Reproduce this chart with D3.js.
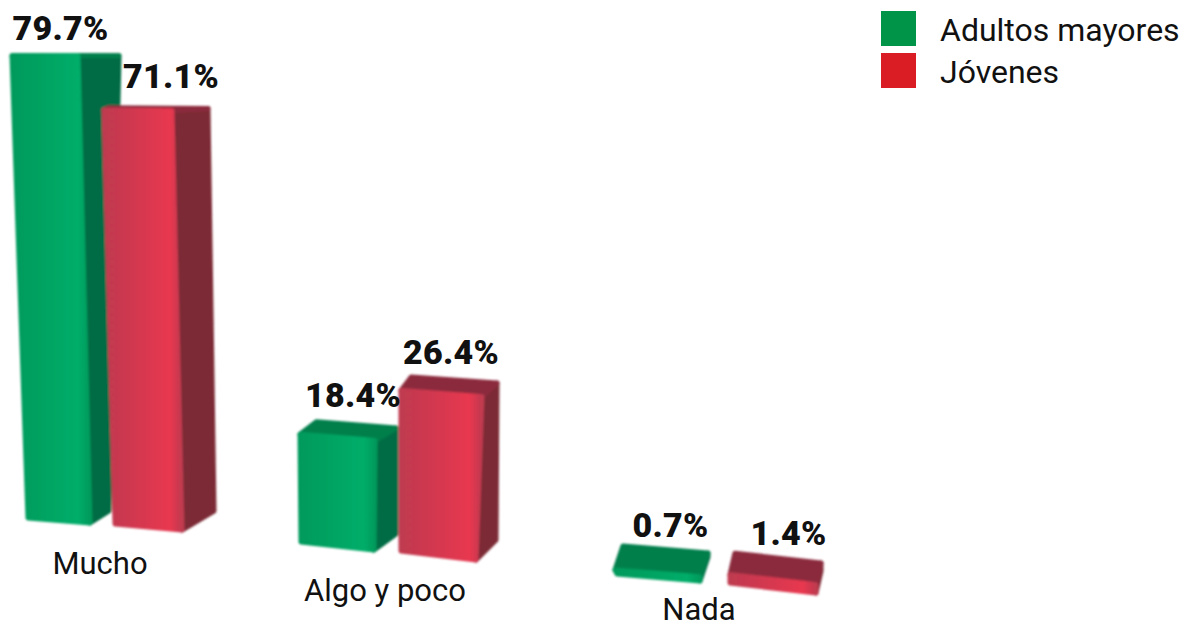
<!DOCTYPE html>
<html>
<head>
<meta charset="utf-8">
<script src="https://cdn.jsdelivr.net/npm/d3@7"></script>
<style>
    body { margin: 0; background: #fff; }
    svg { display: block; }
    text { font-family: Roboto, sans-serif; fill: #111; }
    .value { font-weight: 900; font-size: 34px; letter-spacing: 0.3px; text-anchor: middle; }
    .legend { font-size: 32px; }
    .cat { font-size: 31px; text-anchor: middle; }
</style>
</head>
<body>
<svg id="chart" width="1183" height="628"></svg>
<script>
var categories = ["Mucho", "Algo y poco", "Nada"];
var seriesNames = ["Adultos mayores", "Jóvenes"];
var adultos = [79.7, 18.4, 0.7];
var jovenes = [71.1, 26.4, 1.4];
var valueLabels = ["79.7%", "71.1%", "18.4%", "26.4%", "0.7%", "1.4%"];

var svg = d3.select("#chart");

var y = d3.scaleLinear().domain([0, 80]).range([0, 468]);

// the camera of the original 3d chart: everything flattens towards this line
var horizon = 50;

var bars = [];
categories.forEach(function(c, i) {
    bars.push({ cat: c, series: 0, value: adultos[i] });
    bars.push({ cat: c, series: 1, value: jovenes[i] });
});
bars.forEach(function(d, i) { d.key = i; d.label = valueLabels[i]; });
var keys = bars.map(function(d) { return d.key; });

// footprint of each block on the floor
var floorX = d3.scaleOrdinal().domain(keys).range([28, 115, 301, 401, 617, 730]);
var floorY = d3.scaleOrdinal().domain(keys).range([518, 524, 542, 551, 574, 583]);
var frontW = d3.scaleOrdinal().domain(keys).range([62, 67, 73, 75, 83, 86]);
var frontDrop = d3.scaleOrdinal().domain(keys).range([5, 6, 8, 9, 7, 10]);
var sideW = d3.scaleOrdinal().domain(keys).range([19, 32, 22, 20, 8, 5]);
var sideRise = d3.scaleOrdinal().domain(keys).range([12, 19, 16, 20, 24, 22]);

// tall blocks spread out at the top, [left, middle, right] shift
var lean = d3.scaleOrdinal().domain(keys).range([
    [-16, -12, 10], [-11, -10, -6], [-1, 1, 0], [0, 6, 1], [-2, 0, 0], [0, 0, 0]
]);
var topLift = d3.scaleOrdinal().domain(keys).range([-4, -2, 0, 6, 0, 0]);

var labelX = d3.scaleOrdinal().domain(keys).range([-5, 15, 5, 2, 9, 13]);
var labelY = d3.scaleOrdinal().domain(keys).range([-4, -8, -3, -1, 3, 4]);
var catX = d3.scaleOrdinal().domain(categories).range([100, 385, 699]);
var catY = d3.scaleOrdinal().domain(categories).range([574, 601, 620]);

var palette = [
    { light: "#00ad69", mid: "#009a5c", side: "#006c44", top: "#007f4c", legend: "#009448" },
    { light: "#e8384f", mid: "#bf3a50", side: "#7c2c36", top: "#8c2c3e", legend: "#da1c24" }
];

var defs = svg.append("defs");
palette.forEach(function(p, i) {
    var g = defs.append("linearGradient").attr("id", "front" + i);
    g.append("stop").attr("offset", "0%").attr("stop-color", p.mid);
    g.append("stop").attr("offset", "85%").attr("stop-color", p.light);
    g.append("stop").attr("offset", "100%").attr("stop-color", p.mid);
});
defs.append("filter").attr("id", "soft")
    .append("feGaussianBlur").attr("stdDeviation", 1);

var line = d3.line().curve(d3.curveLinearClosed);

function corners(d) {
    var k = d.key,
        h = y(d.value) + topLift(k),
        l = lean(k),
        x0 = floorX(k), y0 = floorY(k),
        x1 = x0 + frontW(k), y1 = y0 + frontDrop(k),
        x2 = x1 + sideW(k), y2 = y1 - sideRise(k);
    var topY = y0 - h;
    var flat = (topY - horizon) / (y0 - horizon);
    if (flat < 0) flat = 0;
    var tl = [x0 + l[0], topY],
        tm = [x1 + l[1], topY + frontDrop(k) * flat],
        tr = [x2 + l[2], tm[1] - sideRise(k) * flat];
    var back = [tl[0] + (tr[0] - tm[0]) * flat, tl[1] + (tr[1] - tm[1])];
    return { fbl: [x0, y0], fbr: [x1, y1], sbr: [x2, y2], tl: tl, tm: tm, tr: tr, back: back };
}

var chart = svg.append("g").attr("filter", "url(#soft)");

var block = chart.selectAll("g.block")
    .data(bars)
    .enter().append("g")
    .attr("class", "block")
    .attr("stroke-width", 5)
    .attr("stroke-linejoin", "round");

block.append("path")
    .attr("d", function(d) { var c = corners(d); return line([c.tm, c.tr, c.sbr, c.fbr]); })
    .attr("fill", function(d) { return palette[d.series].side; })
    .attr("stroke", function(d) { return palette[d.series].side; });

block.append("path")
    .attr("d", function(d) { var c = corners(d); return line([c.tl, c.back, c.tr, c.tm]); })
    .attr("fill", function(d) { return palette[d.series].top; })
    .attr("stroke", function(d) { return palette[d.series].top; });

block.append("path")
    .attr("d", function(d) { var c = corners(d); return line([c.tl, c.tm, c.fbr, c.fbl]); })
    .attr("fill", function(d) { return "url(#front" + d.series + ")"; })
    .attr("stroke", function(d) { return "url(#front" + d.series + ")"; });

svg.selectAll("text.value")
    .data(bars)
    .enter().append("text")
    .attr("class", "value")
    .attr("x", function(d) { var c = corners(d); return (c.tl[0] + c.tr[0]) / 2 + labelX(d.key); })
    .attr("y", function(d) { var c = corners(d); return Math.min(c.back[1], c.tr[1]) - 12 + labelY(d.key); })
    .text(function(d) { return d.label; });

svg.selectAll("text.cat")
    .data(categories)
    .enter().append("text")
    .attr("class", "cat")
    .attr("x", function(d) { return catX(d); })
    .attr("y", function(d) { return catY(d); })
    .text(function(d) { return d; });

var legendY = d3.scalePoint().domain(seriesNames).range([11, 53]);

var legend = svg.selectAll("g.legend-item")
    .data(seriesNames)
    .enter().append("g")
    .attr("class", "legend-item")
    .attr("transform", function(d) { return "translate(881," + legendY(d) + ")"; });

legend.append("rect")
    .attr("width", 35)
    .attr("height", 35)
    .attr("fill", function(d, i) { return palette[i].legend; });

legend.append("text")
    .attr("class", "legend")
    .attr("x", 59)
    .attr("y", 30)
    .text(function(d) { return d; });
</script>
</body>
</html>
